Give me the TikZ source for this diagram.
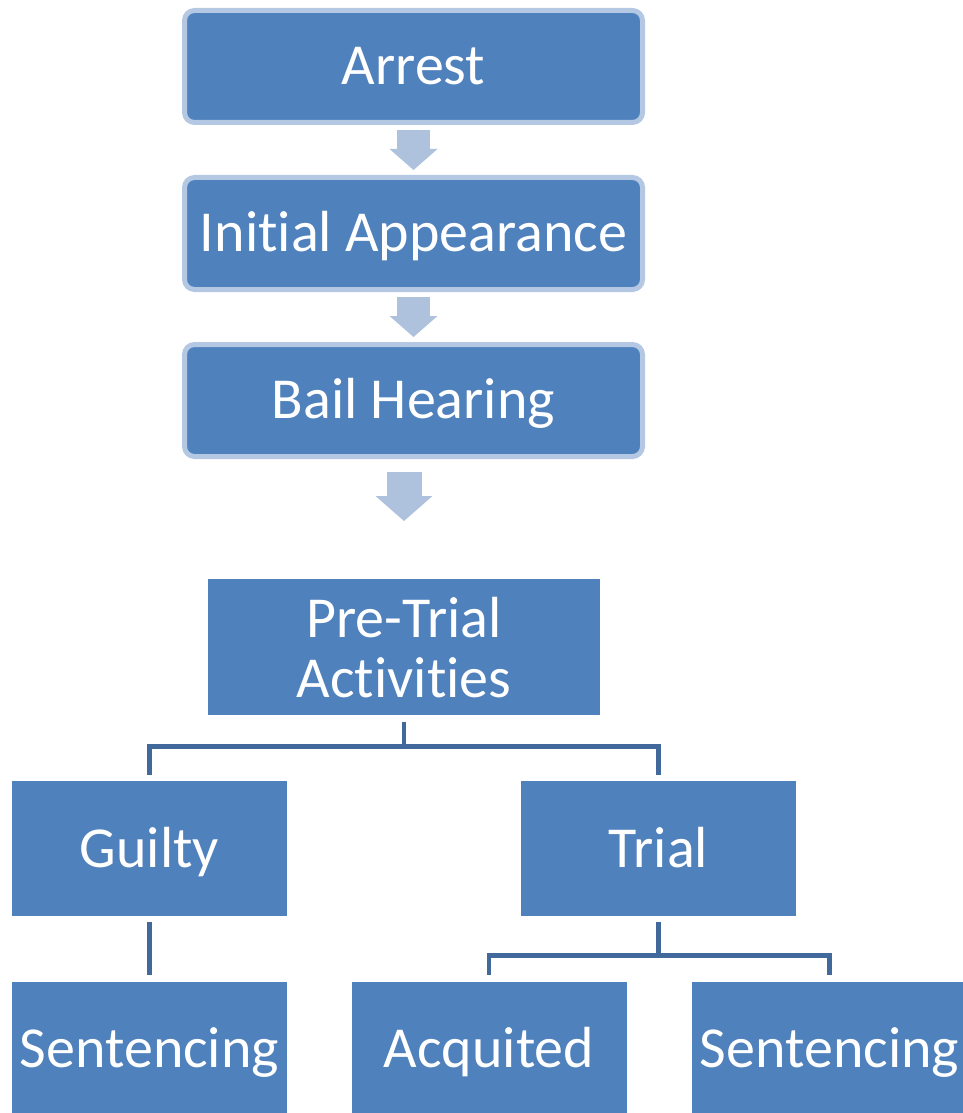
\documentclass[tikz,border=0pt]{standalone}
\usepackage{fontspec}
\setmainfont{Carlito}[Ligatures=NoCommon, Contextuals=NoAlternate]
\usepackage{xcolor}
\usetikzlibrary{positioning, arrows.meta}
\definecolor{boxblue}{HTML}{4F81BD}
\definecolor{rimblue}{HTML}{B4C8E3}
\definecolor{arrowblue}{HTML}{AFC2DD}
\definecolor{linkblue}{HTML}{41699B}

\begin{document}
\begin{tikzpicture}[node distance=1cm,
		stage/.style={draw=rimblue, line width=0.1cm, fill=boxblue, rounded corners=0.2cm,
			text=white, font=\fontsize{33}{34}\selectfont, minimum width=9.16cm,
			minimum height=2.24cm, text height=21pt, text depth=0pt},
		block/.style={fill=boxblue, text=white, font=\fontsize{33}{34}\selectfont,
			minimum width=5.5cm, minimum height=2.7cm, text height=21pt, text depth=0pt},
		flowarrow/.style={draw=arrowblue, line width=0.66cm,
			-{Triangle[width=0.96cm, length=0.42cm, line width=0pt]},
			shorten <=0.1cm, shorten >=0.1cm},
		link/.style={draw=linkblue, line width=0.09cm, shorten <=0.12cm, shorten >=0.12cm}]
	\useasboundingbox (0,0) rectangle (19.24,-22.26);
	
	\node[stage] (arrest) at (8.27,-1.33) {Arrest};
	\node[stage, below = of arrest] (initial) {Ini{}ti{}al Appearance};
	\node[stage, below = of initial] (bail) {Bail Hearing};
	\node[block, below = 2.4cm of bail, xshift=-0.19cm, minimum width=7.84cm,
		minimum height=2.72cm, align=center, text height=, text depth=] (pretrial) {Pre-Trial\\Acti{}vi{}ti{}es};
	
	\node[block, below = 1.3cm of pretrial, xshift=-5.09cm] (guilty) {Guilty};
	\node[block, below = 1.3cm of pretrial, xshift=5.09cm] (trial) {Trial};
	\node[block, below = 1.3cm of guilty] (sentence1) {Sentencing};
	\node[block, below = 1.3cm of trial, xshift=-3.39cm] (acquit) {Acquited};
	\node[block, below = 1.3cm of trial, xshift=3.42cm] (sentence2) {Sentencing};
	
	\draw[flowarrow] (arrest) -- (initial);
	\draw[flowarrow] (initial) -- (bail);
	\draw[flowarrow, line width=0.7cm, -{Triangle[width=1.14cm, length=0.5cm, line width=0pt]},
		shorten <=0.26cm, shorten >=1.16cm] (bail.south -| pretrial.north) -- (pretrial.north);
	
	\draw[link] (pretrial.south) -- ++(0,-0.62) -| (guilty.north);
	\draw[link] (pretrial.south) -- ++(0,-0.62) -| (trial.north);
	\draw[link] (guilty) -- (sentence1);
	\draw[link] (trial.south) -- ++(0,-0.78) -| (acquit.north);
	\draw[link] (trial.south) -- ++(0,-0.78) -| (sentence2.north);
	
\end{tikzpicture}
\end{document}
